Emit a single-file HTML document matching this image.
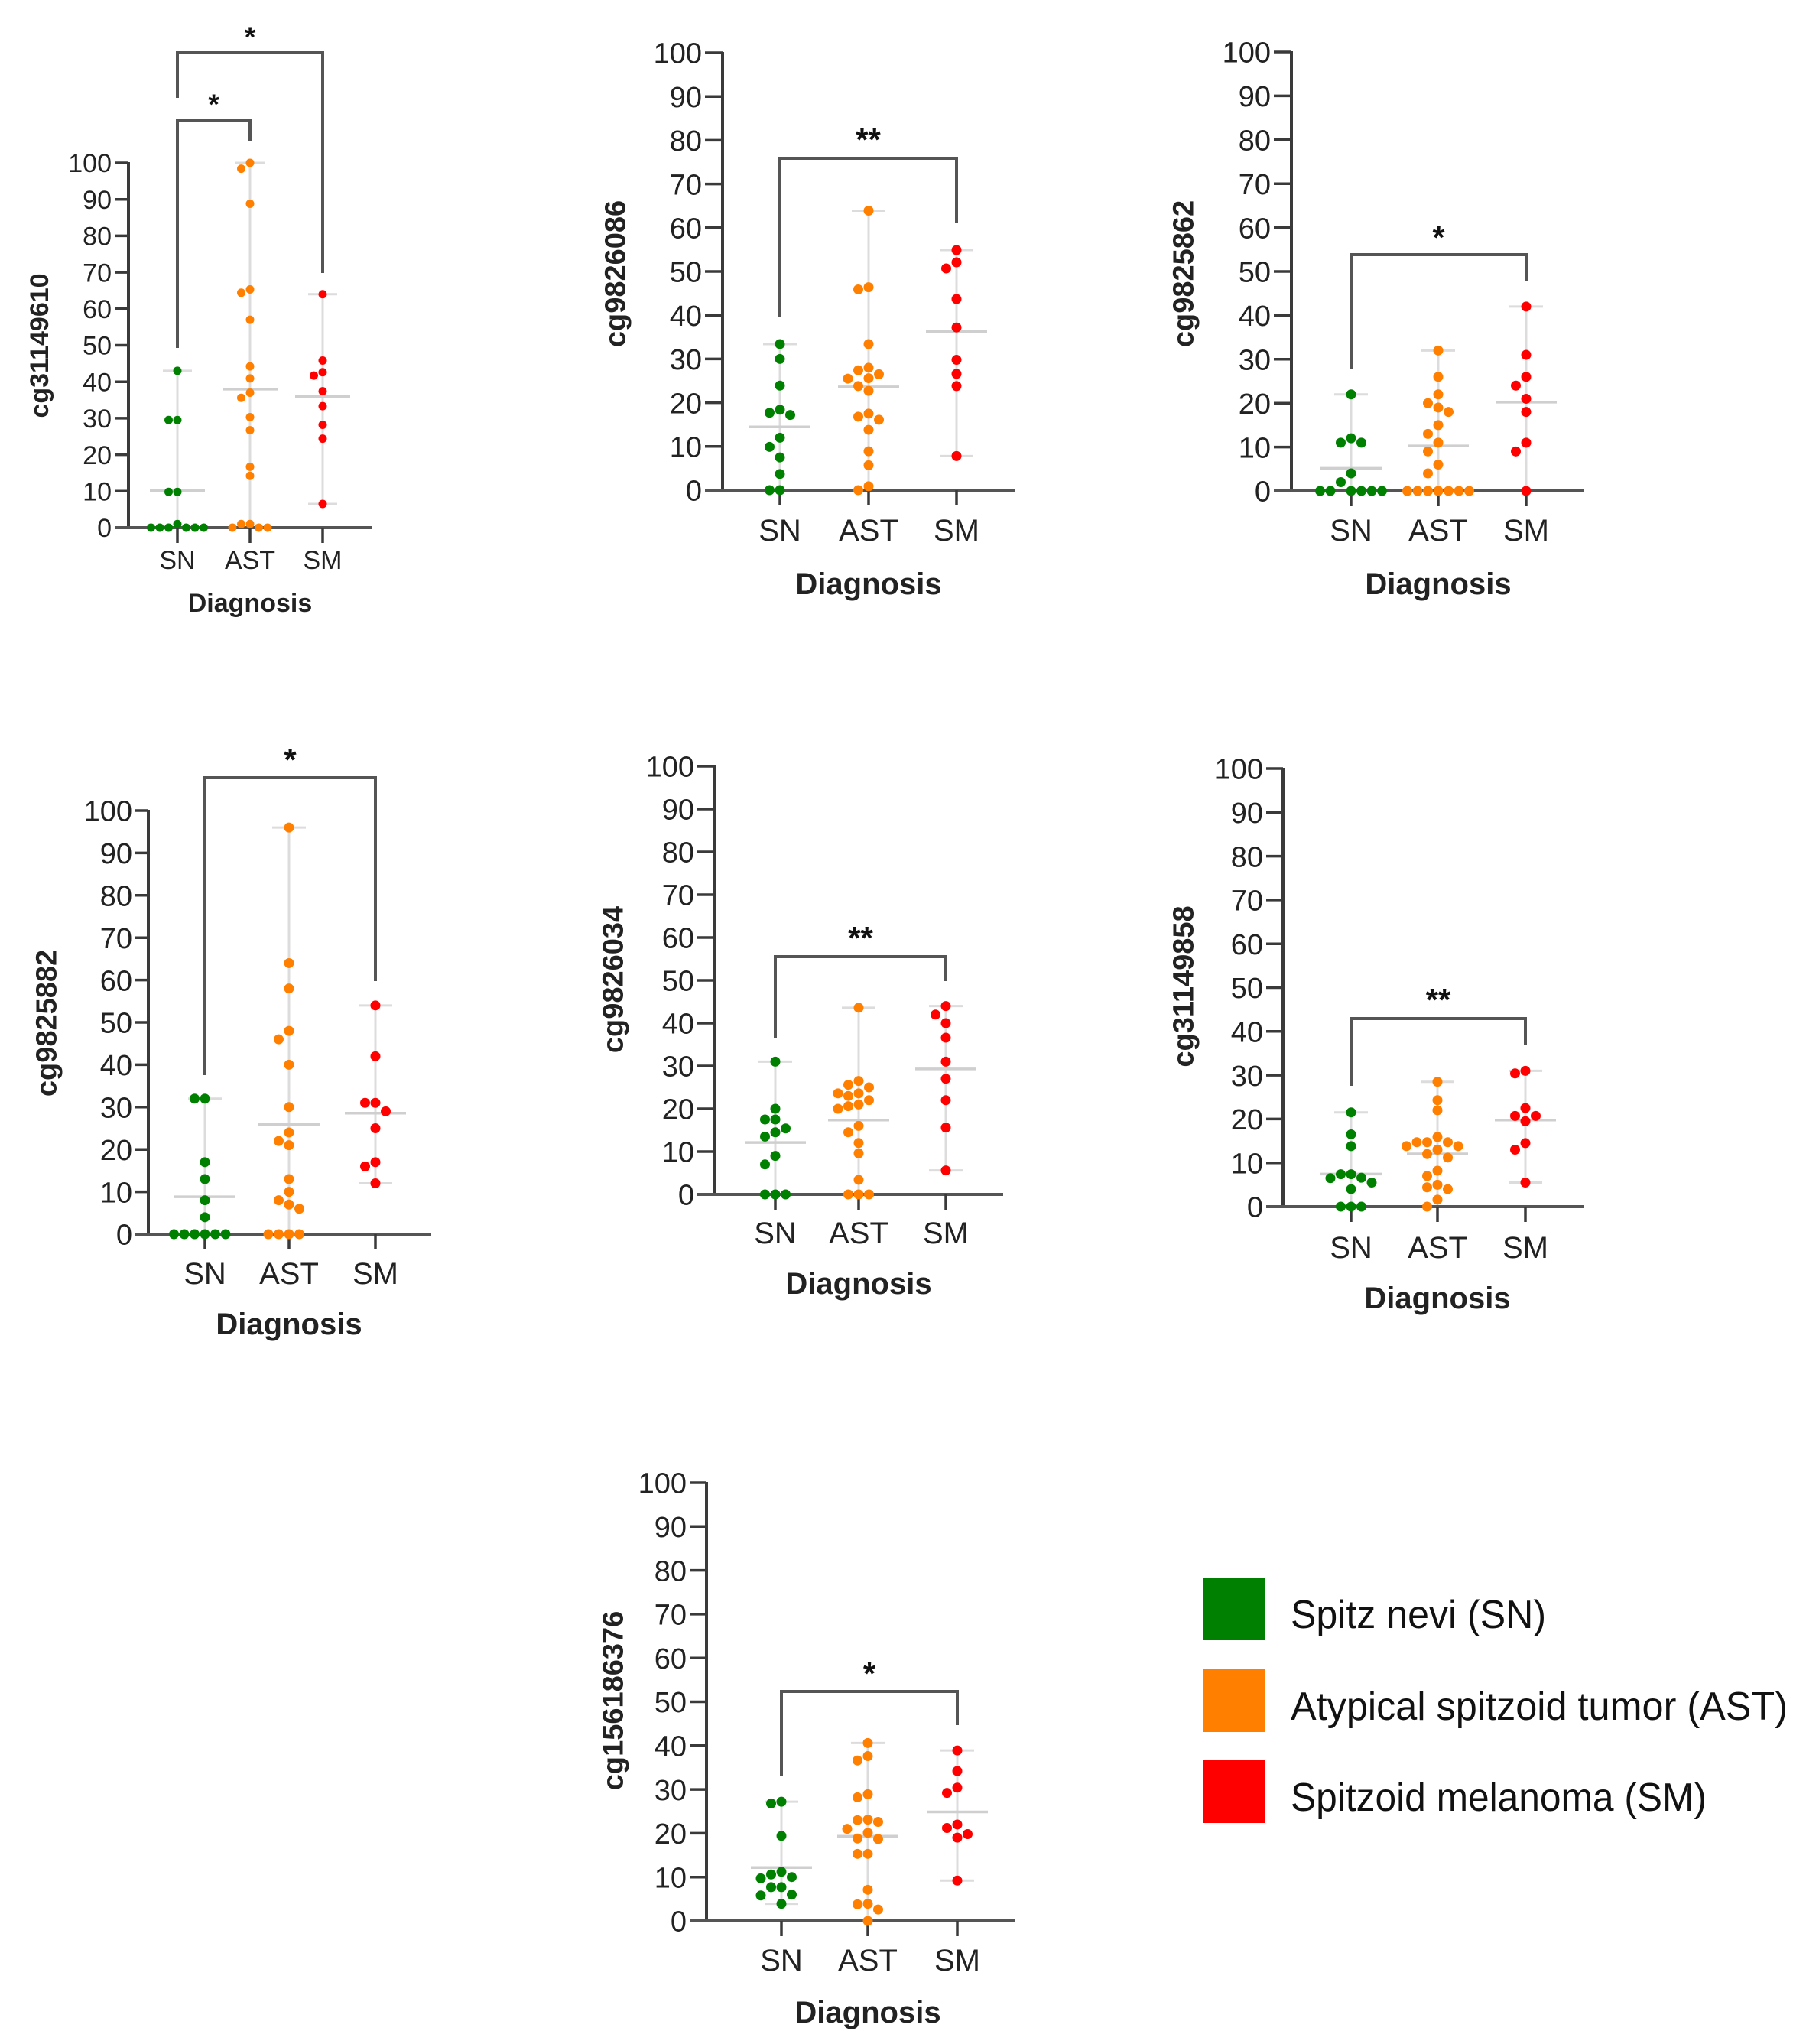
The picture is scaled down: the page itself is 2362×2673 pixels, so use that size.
<!DOCTYPE html>
<html><head><meta charset="utf-8"><style>
html,body{margin:0;padding:0;background:#fff}
svg{display:block}
text{font-family:"Liberation Sans",Arial,sans-serif}
</style></head><body>
<svg id="fig" width="2362" height="2673" viewBox="0 0 2362 2673"></svg>
<script>
const categories = ["SN","AST","SM"];
const colors = ["#008000","#ff8000","#ff0000"];
const yTicks = [0,10,20,30,40,50,60,70,80,90,100];
const p1SN = [43,29.5,29.5,9.8,9.8,1,0,0,0,0,0,0];
const p1AST = [100,98.4,88.8,65.3,64.4,57,44.2,40.9,37,35.6,30.3,26.7,16.7,14.2,0,1,0,1,0];
const p1SM = [64,45.8,42.6,41.7,37.4,33.3,28.2,24.4,6.5];
const p2SN = [33.4,30,23.9,18.4,17.7,17.2,12,9.9,7.5,3.7,0,0];
const p2AST = [63.9,46.4,45.9,33.4,28,27.4,26.5,25.6,25.5,23.8,22.7,17.5,16.8,16.1,13.8,8.9,5.7,0.9,0];
const p2SM = [54.9,52.1,50.7,43.7,37.2,29.8,26.6,23.8,7.8];
const p3SN = [22,12,11,11,4,2,0,0,0,0,0,0];
const p3AST = [32,26,22,20,19,18,15,13,11,9,6,4,0,0,0,0,0,0,0];
const p3SM = [42,31,26,24,21,18,11,9,0];
const p4SN = [32,32,17,13,8,4,0,0,0,0,0,0];
const p4AST = [96,64,58,48,46,40,30,24,22,21,13,10,8,7,6,0,0,0,0];
const p4SM = [54,42,31,31,29,25,17,16,12];
const p5SN = [31,20,17.5,17.5,15.4,14.5,13.5,9,7,0,0,0];
const p5AST = [43.6,26.5,25.6,25,23.6,23.6,23,22,21,20.6,20,16,14.5,12,9.6,3.4,0,0,0];
const p5SM = [44,42,40,36.6,31,27,22,15.6,5.6];
const p6SN = [21.5,16.5,13.8,7.4,7.4,6.6,6.5,5.5,4,0,0,0];
const p6AST = [28.5,24.3,22,15.9,14.7,14.7,14.7,13.8,13.8,13,12,11.2,8.2,7,5,4.4,4,1.6,0];
const p6SM = [31,30.4,22.5,20.7,20.7,19.5,14.5,13,5.5];
const p7SN = [27.2,26.8,19.4,11.2,10.6,10,9.7,7.7,7.7,6,5.8,3.9];
const p7AST = [40.6,37.6,36.6,28.9,28.2,23,23.1,22.6,21,20.1,18.8,18.7,15.3,15.3,7.1,3.9,3.8,2.6,0];
const p7SM = [38.9,34.2,30.4,29.2,22,21.2,19.8,19,9.2];
const probeNames = ["cg31149610","cg9826086","cg9825862","cg9825882","cg9826034","cg31149858","cg156186376"];
const sigLabels = [["*","*"],["**"],["*"],["*"],["**"],["**"],["*"]];

const NS="http://www.w3.org/2000/svg";
const svg=document.getElementById('fig');
function mk(tag,attrs,parent){const e=document.createElementNS(NS,tag);for(const k in attrs)e.setAttribute(k,attrs[k]);(parent||svg).appendChild(e);return e;}

const layouts=[
 {ax:168,y0:690,y100:213,xs:150,xe:487,cx:[232,327,422],r:5.5,fs:34,cf:34,tx:51,ty:452,ly:744,dy:800,cap:19,mid:36,
  br:[{y:69,a:0,b:2,la:128,lb:357,sy:44},{y:157,a:0,b:1,la:455,lb:184,sy:132}]},
 {ax:945,y0:641,y100:69,xs:922,xe:1328,cx:[1020,1136,1251],r:6.5,fs:38,cf:40,tx:804,ty:358,ly:707,dy:777,cap:22,mid:40,
  br:[{y:207,a:0,b:2,la:415,lb:292,sy:178}]},
 {ax:1689,y0:642,y100:68,xs:1666,xe:2072,cx:[1767,1881,1996],r:6.5,fs:38,cf:40,tx:1547,ty:358,ly:707,dy:777,cap:22,mid:40,
  br:[{y:333,a:0,b:2,la:482,lb:367,sy:306}]},
 {ax:194,y0:1614,y100:1060,xs:177,xe:564,cx:[268,378,491],r:6.5,fs:38,cf:40,tx:60,ty:1338,ly:1679,dy:1745,cap:22,mid:40,
  br:[{y:1017,a:0,b:2,la:1406,lb:1283,sy:989}]},
 {ax:934,y0:1562,y100:1002,xs:912,xe:1312,cx:[1014,1123,1237],r:6.5,fs:38,cf:40,tx:801,ty:1281,ly:1626,dy:1692,cap:22,mid:40,
  br:[{y:1251,a:0,b:2,la:1357,lb:1283,sy:1222}]},
 {ax:1678,y0:1578,y100:1005,xs:1656,xe:2072,cx:[1767,1880,1995],r:6.5,fs:38,cf:40,tx:1547,ty:1290,ly:1645,dy:1711,cap:22,mid:40,
  br:[{y:1332,a:0,b:2,la:1420,lb:1366,sy:1303}]},
 {ax:924,y0:2512,y100:1939,xs:902,xe:1327,cx:[1022,1135,1252],r:6.5,fs:38,cf:40,tx:801,ty:2224,ly:2577,dy:2645,cap:22,mid:40,
  br:[{y:2212,a:0,b:2,la:2322,lb:2256,sy:2184}]}
];
const panelData=[[p1SN,p1AST,p1SM],[p2SN,p2AST,p2SM],[p3SN,p3AST,p3SM],[p4SN,p4AST,p4SM],[p5SN,p5AST,p5SM],[p6SN,p6AST,p6SM],[p7SN,p7AST,p7SM]];

layouts.forEach((L,pi)=>{
  const g=mk('g',{});
  
  
  const y=v=>L.y0+(L.y100-L.y0)*v/100;
  panelData[pi].forEach((vals,ci)=>{
    const mn=Math.min(...vals),mx=Math.max(...vals),mean=vals.reduce((a,b)=>a+b,0)/vals.length;
    const cx=L.cx[ci];
    const eb=mk('g',{stroke:'#dcdcdc','stroke-width':3},g);
    
    
    mk('line',{x1:cx,x2:cx,y1:y(mx),y2:y(mn)},eb);
    mk('line',{x1:cx-L.cap,x2:cx+L.cap,y1:y(mx),y2:y(mx)},eb);
    mk('line',{x1:cx-L.cap,x2:cx+L.cap,y1:y(mn),y2:y(mn)},eb);
    const ml=mk('line',{x1:cx-L.mid,x2:cx+L.mid,y1:y(mean),y2:y(mean),stroke:'#cfcfcf','stroke-width':3.5},g);
    
    
  });
  const axc='#3a3a3a';
  const yax=mk('line',{x1:L.ax,x2:L.ax,y1:L.y100-1,y2:L.y0+2,stroke:axc,'stroke-width':4},g);
  
  
  yTicks.forEach(t=>{
    mk('line',{x1:L.xs,x2:L.ax,y1:y(t),y2:y(t),stroke:axc,'stroke-width':3.5},g);
    const tl=mk('text',{x:L.xs-4,y:y(t)+L.fs*0.36,'font-size':L.fs,'text-anchor':'end',fill:'#222'},g);
    tl.textContent=t;
    
    
  });
  const xax=mk('line',{x1:L.xs,x2:L.xe,y1:L.y0,y2:L.y0,stroke:'#555','stroke-width':4},g);
  
  
  categories.forEach((c,ci)=>{
    mk('line',{x1:L.cx[ci],x2:L.cx[ci],y1:L.y0,y2:L.y0+20,stroke:axc,'stroke-width':3.5},g);
    const cl=mk('text',{x:L.cx[ci],y:L.ly,'font-size':L.cf,'text-anchor':'middle',fill:'#222'},g);
    cl.textContent=c;
    
    
  });
  const dt=mk('text',{x:L.cx[1],y:L.dy,'font-size':L.cf,'font-weight':'bold','text-anchor':'middle',fill:'#222'},g);
  dt.textContent='Diagnosis';
  
  
  const yt=mk('text',{x:0,y:0,'font-size':L.fs,'font-weight':'bold','text-anchor':'middle',fill:'#222',transform:`translate(${L.tx+L.fs*0.35},${L.ty}) rotate(-90)`},g);
  yt.textContent=probeNames[pi];
  
  
  L.br.forEach((b,bi)=>{
    const xa=L.cx[b.a],xb=L.cx[b.b];
    const pl=mk('polyline',{points:`${xa},${b.la} ${xa},${b.y} ${xb},${b.y} ${xb},${b.lb}`,fill:'none',stroke:'#555','stroke-width':4},g);
    
    
    const st=mk('text',{x:(xa+xb)/2,y:b.sy+L.fs*0.5,'font-size':L.fs*1.1,'font-weight':'bold','text-anchor':'middle',fill:'#111'},g);
    st.textContent=sigLabels[pi][bi];
    
    
  });
  panelData[pi].forEach((vals,ci)=>{
    const placed=[];const d=2*L.r+0.5;
    const sorted=vals.slice().sort((a,b)=>b-a);
    sorted.forEach(v=>{
      const py=y(v);let off=0;
      for(let k=0;k<20;k++){
        const cand=k===0?0:(k%2?-1:1)*Math.ceil(k/2)*d;
        if(placed.every(p=>Math.hypot(p[0]-cand,p[1]-py)>=d-0.5)){off=cand;break;}
      }
      placed.push([off,py]);
      const c=mk('circle',{cx:L.cx[ci]+off,cy:py,r:L.r,fill:colors[ci]},g);
      
      
    });
  });
});

const legendLabels=["Spitz nevi (SN)","Atypical spitzoid tumor (AST)","Spitzoid melanoma (SM)"];
const legendLen=[334,650,544];
const lg=mk('g',{});


[2063,2183,2302].forEach((yy,i)=>{
  const r=mk('rect',{x:1573,y:yy,width:82,height:82,fill:colors[i]},lg);
  
  
  const t=mk('text',{x:1688,y:yy+66,'font-size':52,fill:'#111',textLength:legendLen[i],lengthAdjust:'spacingAndGlyphs'},lg);
  t.textContent=legendLabels[i];
  
  
});
</script>
</body></html>
